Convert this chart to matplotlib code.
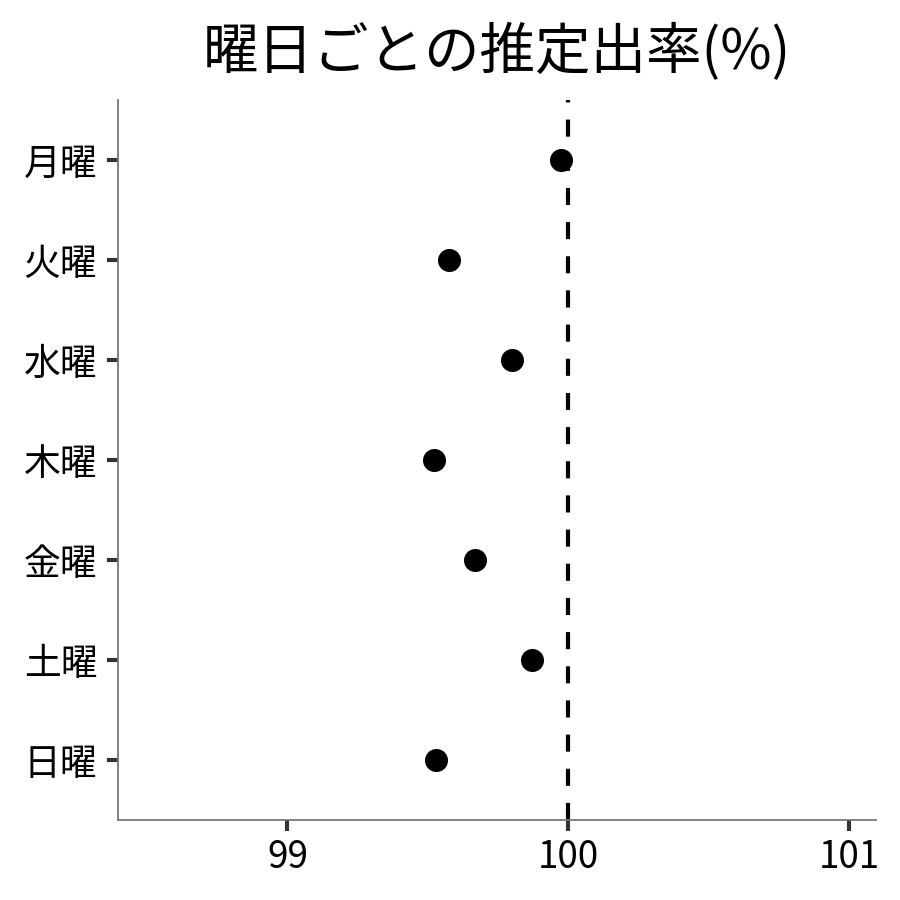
import matplotlib
matplotlib.use("Agg")
import matplotlib.pyplot as plt

plt.rcParams['font.family'] = ['Noto Sans CJK JP', 'DejaVu Sans']

days = ['月曜', '火曜', '水曜', '木曜', '金曜', '土曜', '日曜']
rates = [99.975, 99.575, 99.80, 99.52, 99.668, 99.87, 99.53]
ref_value = 100
xticks = [99, 100, 101]
title = '曜日ごとの推定出率(%)'

fig = plt.figure(figsize=(9, 9), dpi=100)
ax = fig.add_axes([118/900, 1-820/900, (876-118)/900, (820-100)/900])

ypos = list(range(len(days)))
ax.scatter(rates, ypos, s=275, color='black', zorder=3, linewidths=0)
ax.axvline(ref_value, color='black', lw=3, linestyle=(0, (4.1, 4.1)),
           dash_capstyle='butt', zorder=2)

ax.set_xlim(98.397, 101.095)
ax.set_ylim(len(days) - 1 + 0.6, -0.6)
ax.set_yticks(ypos)
ax.set_yticklabels(days)
ax.set_xticks(xticks)
ax.set_xticklabels([str(t) for t in xticks])

for s in ['top', 'right']:
    ax.spines[s].set_visible(False)
for s in ['left', 'bottom']:
    ax.spines[s].set_color('#777777')
    ax.spines[s].set_linewidth(1.3)

ax.tick_params(axis='both', length=8, width=3, color='#333333', labelsize=26.5, labelcolor='black')
ax.tick_params(axis='y', pad=7)
ax.tick_params(axis='x', pad=5)

ax.set_title(title, fontsize=40, pad=22)

fig.savefig('out.png', dpi=100)
